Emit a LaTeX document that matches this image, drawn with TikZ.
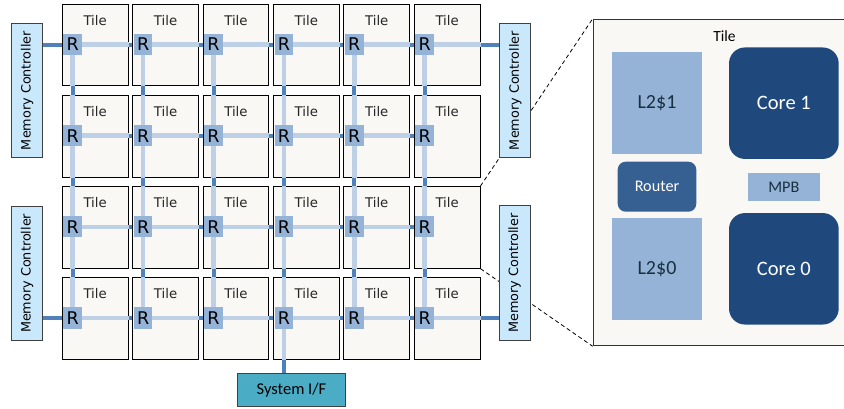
\documentclass[tikz,border=0pt]{standalone}
\usepackage{fontspec}
\usepackage{graphicx}
\setmainfont{Carlito}
\newfontfamily\dvs{DejaVu Sans}
\pgfdeclarelayer{back}
\pgfdeclarelayer{mid}
\pgfdeclarelayer{front}
\pgfsetlayers{back,main,mid,front}
\definecolor{tilefill}{HTML}{F9F8F4}
\definecolor{rfill}{HTML}{95B3D7}
\definecolor{lightlink}{HTML}{BDD0E6}
\definecolor{darklink}{HTML}{4F81BD}
\definecolor{mcfill}{HTML}{CAE8FB}
\definecolor{sysfill}{HTML}{4BACC6}
\definecolor{corefill}{HTML}{1F497D}
\definecolor{routfill}{HTML}{366092}
\definecolor{l2fill}{HTML}{95B3D7}
\definecolor{textdark}{HTML}{17303F}
\tikzset{
  tilebox/.style={draw=black, line width=1pt, fill=tilefill, minimum width=65.7pt, minimum height=81.7pt, inner sep=0pt},
  tilelabel/.style={font=\dvs\fontsize{13.3}{15}\selectfont, text=black!85, inner sep=0pt},
  router/.style={fill=rfill, minimum width=18.7pt, minimum height=21.3pt, inner sep=0pt, font=\dvs\fontsize{17.5}{18}\selectfont},
  lightln/.style={draw=lightlink, line width=4.5pt},
  darkln/.style={draw=darklink, line width=4pt},
  mcbox/.style={draw=black!75, line width=1pt, fill=mcfill, minimum width=31pt, minimum height=134.5pt, inner sep=0pt, font=\dvs\fontsize{12.8}{14}\selectfont},
  sysbox/.style={draw=black!75, line width=1pt, fill=sysfill, minimum width=108.4pt, minimum height=32.7pt, inner sep=0pt, font=\fontsize{16.5}{18}\selectfont},
  l2box/.style={fill=l2fill, minimum width=90pt, minimum height=102pt, inner sep=0pt, text=textdark, font=\fontsize{20}{22}\selectfont},
  corebox/.style={fill=corefill, rounded corners=16pt, minimum width=109.7pt, minimum height=111.5pt, inner sep=0pt, text=white, font=\fontsize{20.5}{22}\selectfont},
  routbox/.style={fill=routfill, rounded corners=8pt, minimum width=78.6pt, minimum height=50pt, inner sep=0pt, text=white, font=\fontsize{16.2}{18}\selectfont},
  mpbbox/.style={fill=l2fill, minimum width=72.3pt, minimum height=28pt, inner sep=0pt, text=textdark, font=\fontsize{16.2}{18}\selectfont},
  bigtile/.style={draw=black!80, line width=1.2pt, fill=tilefill, minimum width=262.4pt, minimum height=326.4pt, inner sep=0pt},
  zoomln/.style={draw=black, line width=0.8pt, dash pattern=on 4pt off 3pt}
}
\begin{document}
\begin{tikzpicture}[x=1pt,y=-1pt]
\useasboundingbox (0,0) rectangle (844,409);
\clip (0,0) rectangle (844,409);
% tiles and routers
\foreach \r in {1,...,4} {
  \foreach \c in {1,...,6} {
    \pgfmathsetmacro\tx{62.3+70.4*(\c-1)}
    \pgfmathsetmacro\ty{4.3+91.1*(\r-1)}
    \node[tilebox] (t-\r-\c) at (\tx+32.85,\ty+40.85) {};
    \node[tilelabel] (tl-\r-\c) at (\tx+32.85,\ty+16) {Tile};
    \begin{pgfonlayer}{front}
      \node[router] (r-\r-\c) at (\tx+10.4,\ty+40.3) {R};
    \end{pgfonlayer}
  }
}
% memory controllers
\node[mcbox] (mcl1) at (27.2,90.5) {\rotatebox{90}{Memory Controller}};
\node[mcbox] (mcl2) at (27.2,273.4) {\rotatebox{90}{Memory Controller}};
\node[mcbox] (mcr1) at (515.3,90.5) {\rotatebox{90}{Memory Controller}};
\node[mcbox] (mcr2) at (514.7,273.2) {\rotatebox{90}{Memory Controller}};
% system interface
\node[sysbox] (sys) at (291.5,390.3) {System I/F};
% enlarged tile
\node[bigtile] (big) at (724.5,182.5) {};
\node[font=\fontsize{15.5}{17}\selectfont, inner sep=0pt] (bigl) at (724.5,35.7) {Tile};
\node[l2box] (l2a) at (657,103) {L2\$1};
\node[corebox] (core1) at (783.85,103.2) {Core 1};
\node[routbox] (rout) at (657,186.7) {Router};
\node[mpbbox] (mpb) at (783.85,187) {MPB};
\node[l2box] (l2b) at (657,268.7) {L2\$0};
\node[corebox] (core0) at (783.85,268.8) {Core 0};
% back layer: dark links and zoom lines
\begin{pgfonlayer}{back}
  \foreach \r in {1,...,4} {
    \draw[darkln] (r-\r-1.center) -- (r-\r-6.center);
  }
  \foreach \c in {1,...,6} {
    \draw[darkln] (r-1-\c.center) -- (r-4-\c.center);
  }
  \draw[darkln] (r-1-1.center) -- (r-1-1.center -| mcl1.east);
  \draw[darkln] (r-4-1.center) -- (r-4-1.center -| mcl2.east);
  \draw[darkln] (r-1-6.center) -- (r-1-6.center -| mcr1.west);
  \draw[darkln] (r-4-6.center) -- (r-4-6.center -| mcr2.west);
  \draw[darkln] (r-4-4.center) -- (r-4-4.center |- sys.north);
  \draw[zoomln] (t-3-6.north east) -- (big.north west);
  \draw[zoomln] (t-3-6.south east) -- (big.south west);
\end{pgfonlayer}
% mid layer: light links inside tiles
\begin{pgfonlayer}{mid}
  \foreach \r in {1,...,4} {
    \foreach \c in {1,...,5} {
      \draw[lightln] (r-\r-\c.center) -- (r-\r-\c.center -| t-\r-\c.east);
    }
  }
  \foreach \r in {1,4} {
    \draw[lightln] (r-\r-6.center) -- (r-\r-6.center -| t-\r-6.east);
  }
  \foreach \c in {1,...,6} {
    \foreach \r in {2,3,4} {
      \draw[lightln] (r-\r-\c.center) -- (r-\r-\c.center |- t-\r-\c.north);
    }
    \foreach \r in {1,2,3} {
      \draw[lightln] (r-\r-\c.center) -- (r-\r-\c.center |- t-\r-\c.south);
    }
  }
  \draw[lightln] (r-4-4.center) -- (r-4-4.center |- t-4-4.south);
\end{pgfonlayer}
\end{tikzpicture}
\end{document}
